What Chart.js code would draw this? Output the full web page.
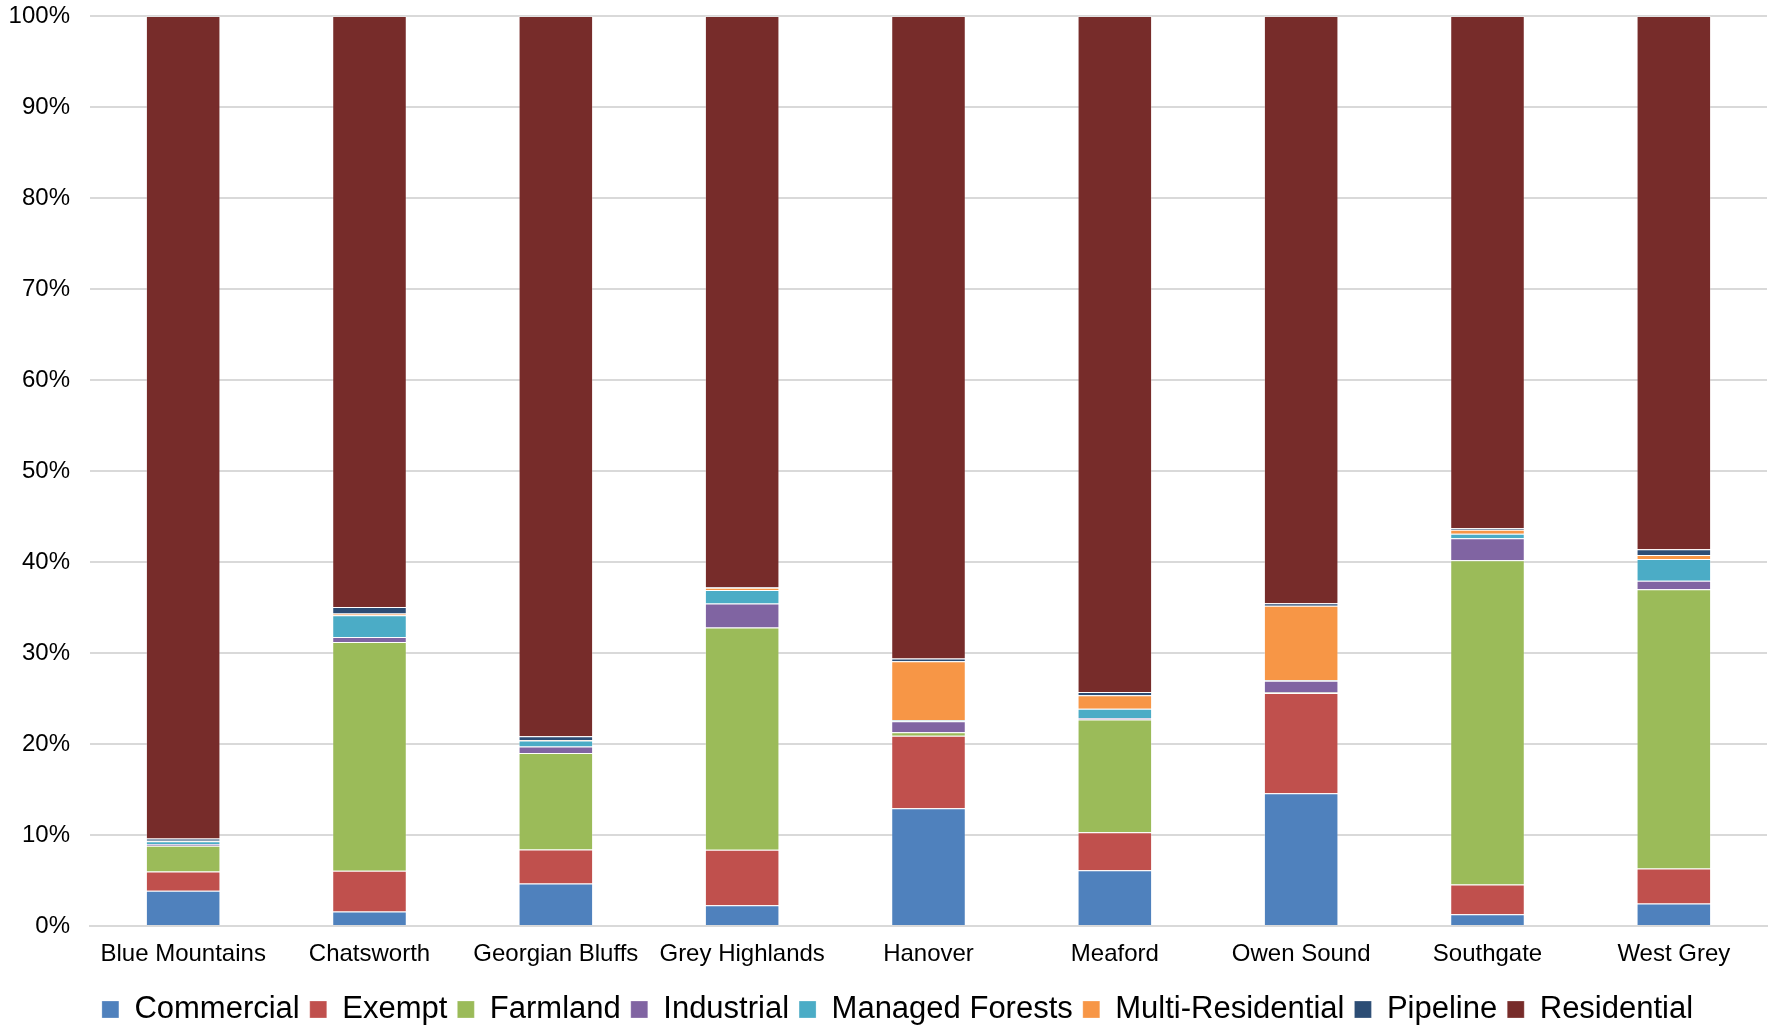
<!DOCTYPE html>
<html lang="en">
<head>
    <meta charset="UTF-8">
    <title>Assessment by property class</title>
    <script src="https://cdn.jsdelivr.net/npm/chart.js"></script>
    <style>
        body { margin: 0; background: #fff; }
    </style>
</head>
<body>
<canvas id="myChart" width="1773" height="1029"></canvas>

<script>
    const municipalities = ['Blue Mountains', 'Chatsworth', 'Georgian Bluffs', 'Grey Highlands', 'Hanover', 'Meaford', 'Owen Sound', 'Southgate', 'West Grey'];

    // share of assessment, percent
    const commercial = [3.86, 1.58, 4.66, 2.28, 12.93, 6.14, 14.59, 1.28, 2.46];
    const exempt = [2.12, 4.48, 3.75, 6.10, 7.97, 4.15, 11.01, 3.27, 3.86];
    const farmland = [2.84, 25.14, 10.59, 24.42, 0.40, 12.41, 0.05, 35.65, 30.68];
    const industrial = [0.20, 0.55, 0.73, 2.65, 1.20, 0.15, 1.30, 2.40, 0.95];
    const managedForests = [0.30, 2.40, 0.66, 1.47, 0.10, 1.03, 0.05, 0.51, 2.39];
    const multiResidential = [0.05, 0.18, 0.05, 0.25, 6.50, 1.47, 8.20, 0.44, 0.44];
    const pipeline = [0.25, 0.73, 0.40, 0.05, 0.30, 0.37, 0.26, 0.15, 0.62];
    const residential = [90.38, 64.94, 79.16, 62.78, 70.60, 74.28, 64.54, 56.30, 58.60];

    const font = 'Liberation Sans, Arial, sans-serif';

    function series(label, data, color) {
        return {
            label: label,
            data: data,
            backgroundColor: color,
            borderColor: 'rgba(255,255,255,0.25)',
            borderWidth: 1,
            categoryPercentage: 1.0,
            barPercentage: 0.4
        };
    }

    // nudge the legend a little to the right, like the original
    const legendShift = {
        id: 'legendShift',
        afterLayout(chart) {
            chart.legend.left += 14;
            chart.legend.right += 14;
        }
    };

    const ctx = document.getElementById('myChart').getContext('2d');

    new Chart(ctx, {
        type: 'bar',
        data: {
            labels: municipalities,
            datasets: [
                series('Commercial', commercial, '#4F81BD'),
                series('Exempt', exempt, '#C0504D'),
                series('Farmland', farmland, '#9BBB59'),
                series('Industrial', industrial, '#8064A2'),
                series('Managed Forests', managedForests, '#4BACC6'),
                series('Multi-Residential', multiResidential, '#F79646'),
                series('Pipeline', pipeline, '#2C4D75'),
                series('Residential', residential, '#772C2A')
            ]
        },
        plugins: [legendShift],
        options: {
            responsive: false,
            animation: false,
            layout: {
                padding: { top: 16, right: 6, bottom: -6, left: 0 }
            },
            plugins: {
                tooltip: { enabled: false },
                legend: {
                    position: 'bottom',
                    labels: {
                        boxWidth: 17,
                        boxHeight: 17,
                        padding: 10,
                        color: '#000',
                        font: { family: font, size: 31 }
                    }
                }
            },
            scales: {
                x: {
                    stacked: true,
                    grid: { display: false },
                    border: { color: '#d9d9d9', width: 2 },
                    afterFit: function (scale) { scale.height = 58; },
                    ticks: {
                        color: '#000',
                        padding: 6,
                        maxRotation: 0,
                        autoSkip: false,
                        font: { family: font, size: 24 }
                    }
                },
                y: {
                    stacked: true,
                    min: 0,
                    max: 100,
                    border: { display: false },
                    grid: { color: '#d9d9d9', lineWidth: 2, tickLength: 20, tickColor: 'rgba(0,0,0,0)' },
                    afterFit: function (scale) { scale.width = 90; },
                    ticks: {
                        stepSize: 10,
                        padding: 0,
                        color: '#000',
                        font: { family: font, size: 24, lineHeight: 1 },
                        callback: function (value) { return value + '%'; }
                    }
                }
            }
        }
    });
</script>
</body>
</html>
